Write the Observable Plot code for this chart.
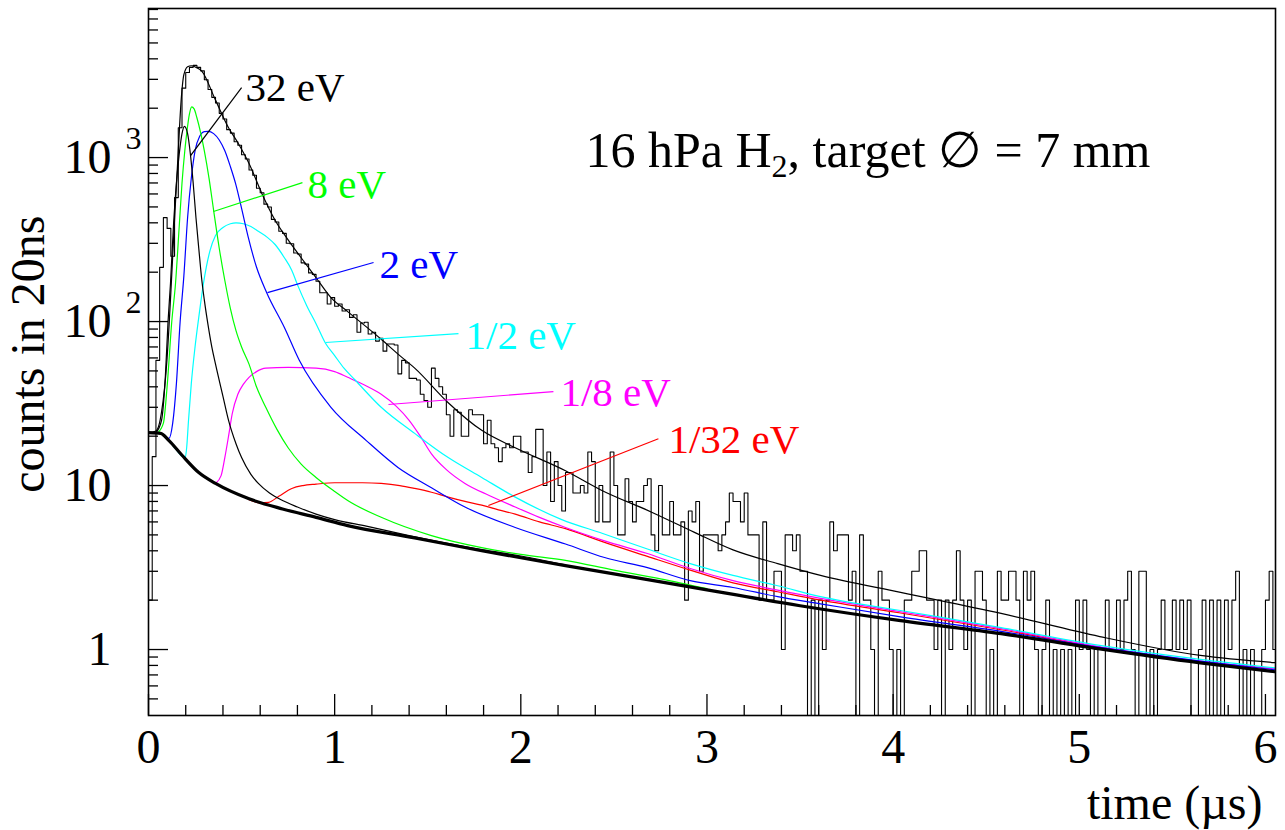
<!DOCTYPE html>
<html>
<head>
<meta charset="utf-8">
<script src="https://cdn.jsdelivr.net/npm/d3@7"></script>
<script src="https://cdn.jsdelivr.net/npm/@observablehq/plot@0.6"></script>
<style>
  body { margin: 0; background: #fff; }
  #chart svg { display: block; }
</style>
</head>
<body>
<div id="chart"></div>
<script>
// ---------- DATA ----------
const binWidth = 0.02; // µs (20 ns bins)

// measured histogram: counts per 20 ns bin, bins 0..302
const histCounts = [
  2, 15, 58, 214, 430, 370, 250, 570, 1520, 2650, 3300, 3550, 3650, 3550, 3380,
  2980, 2600, 2330, 2150, 1860, 1720, 1480, 1410, 1250, 1190, 1040, 980, 840, 780, 650,
  610, 520, 500, 420, 405, 355, 345, 300, 298, 262, 258, 228, 224, 198, 194,
  176, 150, 150, 128, 140, 124, 128, 116, 118, 106, 110, 86, 98, 99, 84,
  86, 76, 79, 66, 73, 73, 72, 48,
  58, 56, 45, 45, 44, 36, 33, 30, 52, 45, 40, 36, 27,
  20, 29, 28, 20, 20, 29, 27, 27, 27, 18, 25, 18, 17, 14, 17, 18, 17, 20, 20, 16, 16, 12, 15, 22, 22, 10, 16, 8, 14, 10,
  7, 12, 12, 9, 9, 10, 9, 16, 14, 6, 10, 6, 6, 16, 10, 5, 5, 11, 8, 6, 8, 8, 10, 11, 5, 4, 10, 5, 5, 8, 5, 5, 6, 2, 7, 6, 8, 3, 5, 5, 5, 5, 4, 5, 6, 9, 8, 8, 6, 9, 5, 5, 5, 2, 6, 2, 2, 3, 3, 1, 5, 5, 4, 5,
  3, 3, 0, 2, 0, 2, 1, 2, 6, 4,
  5, 5, 5, 2, 3, 0, 5, 2, 2, 1,
  0, 3, 2, 2, 1, 0, 1, 0, 2, 2,
  3, 3, 4, 4, 2, 2, 1, 2, 0, 2,
  1, 2, 4, 2, 1, 2, 0, 3, 3, 2,
  0, 1, 0, 3, 2, 2, 3, 3, 2, 0,
  3, 2, 3, 1, 0, 1, 2, 0, 1, 0,
  1, 0, 1, 0, 2, 1, 2, 1, 0, 1,
  0, 0, 2, 1, 1, 2, 1, 2, 3, 1,
  0, 3, 3, 0, 1, 0, 1, 2, 1, 1,
  2, 1, 2, 1, 2, 0, 0, 1, 2, 0,
  2, 0, 2, 0, 2, 1, 2, 3, 0, 1,
  0, 1, 0, 0, 1, 2, 3, 1
];

// background (thick black) [time µs, counts]
const background = [
  [0, 21], [0.065, 20.8], [0.11, 18.8], [0.18, 15.3], [0.27, 12.0], [0.36, 10.3],
  [0.54, 8.3], [0.72, 7.2], [0.9, 6.4], [1.07, 5.7], [1.43, 4.8], [1.79, 4.0],
  [2.24, 3.25], [2.9, 2.42], [3.5, 1.85], [4.04, 1.5], [4.58, 1.25], [5.11, 1.01],
  [5.65, 0.83], [6.06, 0.73]
];

// total fit (thin black)
const fitTotal = [
  [0, 21], [0.04, 21.5], [0.07, 28], [0.10, 60], [0.12, 150], [0.14, 420], [0.16, 1100],
  [0.175, 2200], [0.19, 3200], [0.21, 3580], [0.23, 3630], [0.255, 3550], [0.285, 3380],
  [0.36, 2240], [0.43, 1520], [0.48, 1230], [0.54, 920], [0.61, 600], [0.68, 415],
  [0.75, 315], [0.82, 245], [0.90, 185], [0.98, 140], [1.07, 115], [1.25, 78],
  [1.35, 62], [1.43, 52], [1.61, 32], [1.79, 21.7], [1.97, 17], [2.24, 12.3],
  [2.43, 9.4], [2.70, 6.9], [2.93, 5.2], [3.14, 4.05], [3.38, 3.34], [3.61, 2.83],
  [4.04, 2.23], [4.58, 1.66], [5.11, 1.2], [5.65, 0.92], [6.06, 0.83]
];

// components for each initial energy
const comp32eV = [
  [0.04, 21], [0.07, 25], [0.09, 45], [0.105, 100], [0.118, 170], [0.135, 400],
  [0.15, 700], [0.165, 1050], [0.18, 1400], [0.193, 1550], [0.21, 1400], [0.225, 1050],
  [0.24, 700], [0.255, 430], [0.27, 280], [0.285, 185], [0.30, 135], [0.32, 95],
  [0.34, 70], [0.36, 55], [0.40, 35], [0.43, 25], [0.47, 18], [0.50, 14.8],
  [0.55, 11.7], [0.59, 10.3], [0.65, 9.0], [0.72, 8.1], [0.80, 7.4], [0.9, 6.7],
  [1.0, 6.2], [1.17, 5.65], [1.4, 4.95], [1.6, 4.45], [1.8, 4.05], [2.0, 3.72], [2.24, 3.28]
];
const comp8eV = [
  [0.05, 21], [0.08, 24], [0.10, 40], [0.125, 100], [0.145, 170], [0.165, 380],
  [0.18, 700], [0.195, 1100], [0.205, 1400], [0.22, 1850], [0.232, 2040], [0.245, 1980],
  [0.26, 1750], [0.28, 1420], [0.30, 1100], [0.325, 750], [0.35, 475], [0.38, 280],
  [0.41, 178], [0.44, 120], [0.47, 88], [0.50, 70], [0.54, 55], [0.58, 40], [0.63, 30],
  [0.69, 22], [0.75, 17], [0.82, 13.5], [0.9, 11.2], [1.0, 9.2], [1.07, 8.1],
  [1.25, 6.4], [1.52, 4.95], [1.79, 4.18], [2.0, 3.8], [2.24, 3.5], [2.5, 3.05],
  [2.75, 2.7], [3.0, 2.35]
];
const comp2eV = [
  [0.08, 20.3], [0.11, 19.4], [0.13, 24], [0.15, 42], [0.17, 100], [0.19, 190],
  [0.21, 430], [0.23, 750], [0.25, 1100], [0.275, 1350], [0.30, 1440], [0.32, 1445],
  [0.35, 1400], [0.38, 1280], [0.41, 1100], [0.44, 880], [0.47, 680], [0.50, 490],
  [0.535, 330], [0.58, 215], [0.635, 150], [0.73, 92], [0.81, 58], [0.98, 30],
  [1.17, 18.8], [1.34, 12.9], [1.52, 9.7], [1.70, 7.4], [1.97, 5.55], [2.24, 4.4],
  [2.45, 3.64], [2.68, 3.16], [2.91, 2.63], [3.14, 2.39], [3.38, 2.1], [3.61, 1.9],
  [4.04, 1.58], [4.58, 1.29], [5.11, 1.03], [5.65, 0.85], [6.06, 0.75]
];
const compHalfeV = [
  [0.11, 18.8], [0.15, 16.5], [0.18, 15.1], [0.197, 14.7], [0.205, 17], [0.215, 25],
  [0.23, 42], [0.25, 70], [0.27, 106], [0.295, 170], [0.31, 213], [0.33, 270],
  [0.36, 335], [0.40, 375], [0.44, 395], [0.47, 400], [0.51, 395], [0.55, 380],
  [0.59, 355], [0.64, 325], [0.68, 295], [0.73, 245], [0.77, 205], [0.80, 168],
  [0.85, 125], [0.90, 97], [0.95, 74], [1.0, 62], [1.05, 52], [1.11, 44], [1.25, 30],
  [1.43, 20.8], [1.61, 14.8], [1.79, 11.2], [1.97, 8.5], [2.22, 6.2], [2.44, 5.1],
  [2.68, 4.1], [2.91, 3.34], [3.14, 2.83], [3.38, 2.45], [3.61, 2.1], [4.04, 1.73],
  [4.58, 1.36], [5.11, 1.06], [5.65, 0.87], [6.06, 0.77]
];
const compEighth = [
  [0.36, 10.3], [0.39, 11.5], [0.41, 14.8], [0.43, 20], [0.45, 27.5], [0.48, 36],
  [0.51, 41.5], [0.54, 45.7], [0.58, 49.5], [0.63, 52], [0.75, 52.5], [0.9, 52],
  [1.0, 49.5], [1.07, 45.7], [1.16, 41], [1.25, 36], [1.33, 30.5], [1.40, 25],
  [1.46, 20], [1.52, 15.6], [1.60, 12.5], [1.70, 10.3], [1.83, 8.7], [1.97, 7.4],
  [2.1, 6.4], [2.24, 5.55], [2.45, 4.6], [2.68, 3.85], [2.91, 3.12], [3.14, 2.63],
  [3.38, 2.3], [3.61, 2.05], [4.04, 1.70], [4.58, 1.34], [5.11, 1.04], [5.65, 0.85],
  [6.06, 0.76]
];
const compThirtySecond = [
  [0.54, 8.2], [0.60, 7.85], [0.645, 7.9], [0.70, 8.6], [0.77, 9.6], [0.83, 10.0],
  [0.9, 10.2], [1.0, 10.4], [1.07, 10.4], [1.15, 10.4], [1.25, 10.3], [1.35, 10.0],
  [1.43, 9.6], [1.52, 9.1], [1.61, 8.5], [1.70, 8.0], [1.79, 7.6], [1.88, 7.1],
  [1.97, 6.7], [2.1, 6.0], [2.24, 5.46], [2.45, 4.5], [2.68, 3.7], [2.91, 3.05],
  [3.14, 2.55], [3.38, 2.25], [3.61, 2.0], [4.04, 1.67], [4.58, 1.32], [5.11, 1.03],
  [5.65, 0.84], [6.06, 0.76]
];

// annotation labels: leader line from (t1,v1) to (t2,v2); text baseline-left at (tx,vy)
const energyLabels = [
  {text: "32 eV",  color: "#000000", t1: 0.226, v1: 1028, t2: 0.50,  v2: 2672, tx: 0.521, vy: 2228},
  {text: "8 eV",   color: "#00ff00", t1: 0.349, v1: 469,  t2: 0.827, v2: 704,  tx: 0.854, vy: 570},
  {text: "2 eV",   color: "#0000ff", t1: 0.639, v1: 150,  t2: 1.209, v2: 229,  tx: 1.241, vy: 185},
  {text: "1/2 eV", color: "#00ffff", t1: 0.951, v1: 74.5, t2: 1.665, v2: 84.5, tx: 1.703, vy: 68.4},
  {text: "1/8 eV", color: "#ff00ff", t1: 1.289, v1: 31.2, t2: 2.175, v2: 37.4, tx: 2.213, vy: 30.7},
  {text: "1/32 eV",color: "#ff0000", t1: 1.826, v1: 7.55, t2: 2.739, v2: 19.3, tx: 2.793, vy: 15.7}
];

const xMajorTicks = [0, 1, 2, 3, 4, 5, 6];
const xMinorTicks = [0.2, 0.4, 0.6, 0.8, 1.2, 1.4, 1.6, 1.8, 2.2, 2.4, 2.6, 2.8, 3.2, 3.4, 3.6, 3.8,
                     4.2, 4.4, 4.6, 4.8, 5.2, 5.4, 5.6, 5.8];
const yMajorTicks = [1, 10, 100, 1000];
const yMinorTicks = [0.5, 0.6, 0.7, 0.8, 0.9, 2, 3, 4, 5, 6, 7, 8, 9, 20, 30, 40, 50, 60, 70, 80, 90,
                     200, 300, 400, 500, 600, 700, 800, 900, 2000, 3000, 4000, 5000, 6000, 7000, 8000];
const yTickLabels = [
  {v: 1, base: "1", exp: ""},
  {v: 10, base: "10", exp: ""},
  {v: 100, base: "10", exp: "2"},
  {v: 1000, base: "10", exp: "3"}
];
const xTitle = "time (µs)";
const yTitle = "counts in 20ns";
const titleParts = ["16 hPa H", "2", ", target \u2205 = 7 mm"];

// ---------- BUILD ----------
const FONT = "'Liberation Serif', 'Times New Roman', 'DejaVu Serif', serif";
const histTable = histCounts.map((c, i) => ({t: i * binWidth, c}));
histTable.push({t: histCounts.length * binWidth, c: histCounts[histCounts.length - 1]});

const series = [
  {data: compThirtySecond, color: "#ff0000"},
  {data: compEighth, color: "#ff00ff"},
  {data: compHalfeV, color: "#00ffff"},
  {data: comp2eV, color: "#0000ff"},
  {data: comp8eV, color: "#00ff00"},
  {data: comp32eV, color: "#000000"}
];

// measure title pieces for subscript placement
const ctx = document.createElement("canvas").getContext("2d");
const titleSize = 50, subSize = 32;
ctx.font = `${titleSize}px 'Liberation Serif'`;
const w1 = ctx.measureText(titleParts[0]).width;
ctx.font = `${subSize}px 'Liberation Serif'`;
const w2 = ctx.measureText(titleParts[1]).width;

const titleX = 437, titleY = 158;

const chart = Plot.plot({
  width: 1285,
  height: 830,
  marginLeft: 148,
  marginRight: 10,
  marginTop: 8,
  marginBottom: 115,
  style: {fontFamily: FONT, background: "#fff", color: "#000"},
  x: {domain: [0, 6.054]},
  y: {type: "log", domain: [0.396, 8110]},
  marks: [
    // histogram
    Plot.line(histTable, {x: "t", y: d => (d.c > 0 ? d.c : 0.1), curve: "step-after",
      stroke: "#000", strokeWidth: 1.1, clip: true}),
    // components
    ...series.map(s => Plot.line(s.data, {x: d => d[0], y: d => d[1], curve: "monotone-x",
      stroke: s.color, strokeWidth: 1.2, clip: true})),
    // total
    Plot.line(fitTotal, {x: d => d[0], y: d => d[1], curve: "monotone-x", stroke: "#000",
      strokeWidth: 1.2, clip: true}),
    // background
    Plot.line(background, {x: d => d[0], y: d => d[1], curve: "monotone-x", stroke: "#000",
      strokeWidth: 3.2, clip: true}),
    // label leaders + text
    ...energyLabels.flatMap(d => [
      Plot.link([d], {x1: "t1", y1: "v1", x2: "t2", y2: "v2", stroke: d.color, strokeWidth: 1.2}),
      Plot.text([d], {x: "tx", y: "vy", text: "text", fill: d.color, fontSize: 41,
        textAnchor: "start", lineAnchor: "bottom"})
    ]),
    // axes ticks (inside frame)
    Plot.axisX({ticks: xMajorTicks, tickSize: -21, tickFormat: () => "", label: null, strokeWidth: 1.3}),
    Plot.axisX({ticks: xMinorTicks, tickSize: -10, tickFormat: () => "", label: null, strokeWidth: 1.3}),
    Plot.axisY({ticks: yMajorTicks, tickSize: -20, tickFormat: () => "", label: null, strokeWidth: 1.3}),
    Plot.axisY({ticks: yMinorTicks, tickSize: -10, tickFormat: () => "", label: null, strokeWidth: 1.3}),
    // tick labels
    Plot.text(xMajorTicks, {x: d => d, text: d => String(d), frameAnchor: "bottom", dy: 47,
      lineAnchor: "bottom", fontSize: 48, fill: "#000"}),
    Plot.text(yTickLabels, {y: "v", text: "base", frameAnchor: "left", dx: -37, textAnchor: "end",
      lineAnchor: "middle", fontSize: 48, fill: "#000"}),
    Plot.text(yTickLabels.filter(d => d.exp), {y: "v", text: "exp", frameAnchor: "left", dx: -23,
      dy: -19, textAnchor: "start", lineAnchor: "middle", fontSize: 32, fill: "#000"}),
    // axis titles
    Plot.text([xTitle], {text: d => d, frameAnchor: "bottom-right", dx: -13, dy: 103,
      textAnchor: "end", lineAnchor: "bottom", fontSize: 48, fill: "#000"}),
    Plot.text([yTitle], {text: d => d, frameAnchor: "top-left", dx: -105, dy: 207, rotate: -90,
      textAnchor: "end", lineAnchor: "bottom", fontSize: 48, fill: "#000"}),
    // in-plot title with subscript
    Plot.text([titleParts[0]], {text: d => d, frameAnchor: "top-left", dx: titleX, dy: titleY,
      textAnchor: "start", lineAnchor: "bottom", fontSize: titleSize, fill: "#000"}),
    Plot.text([titleParts[1]], {text: d => d, frameAnchor: "top-left", dx: titleX + w1, dy: titleY + 10,
      textAnchor: "start", lineAnchor: "bottom", fontSize: subSize, fill: "#000"}),
    Plot.text([titleParts[2]], {text: d => d, frameAnchor: "top-left", dx: titleX + w1 + w2, dy: titleY,
      textAnchor: "start", lineAnchor: "bottom", fontSize: titleSize, fill: "#000"}),
    Plot.frame({stroke: "#000", strokeWidth: 1.6})
  ]
});
document.getElementById("chart").appendChild(chart);
</script>
</body>
</html>
